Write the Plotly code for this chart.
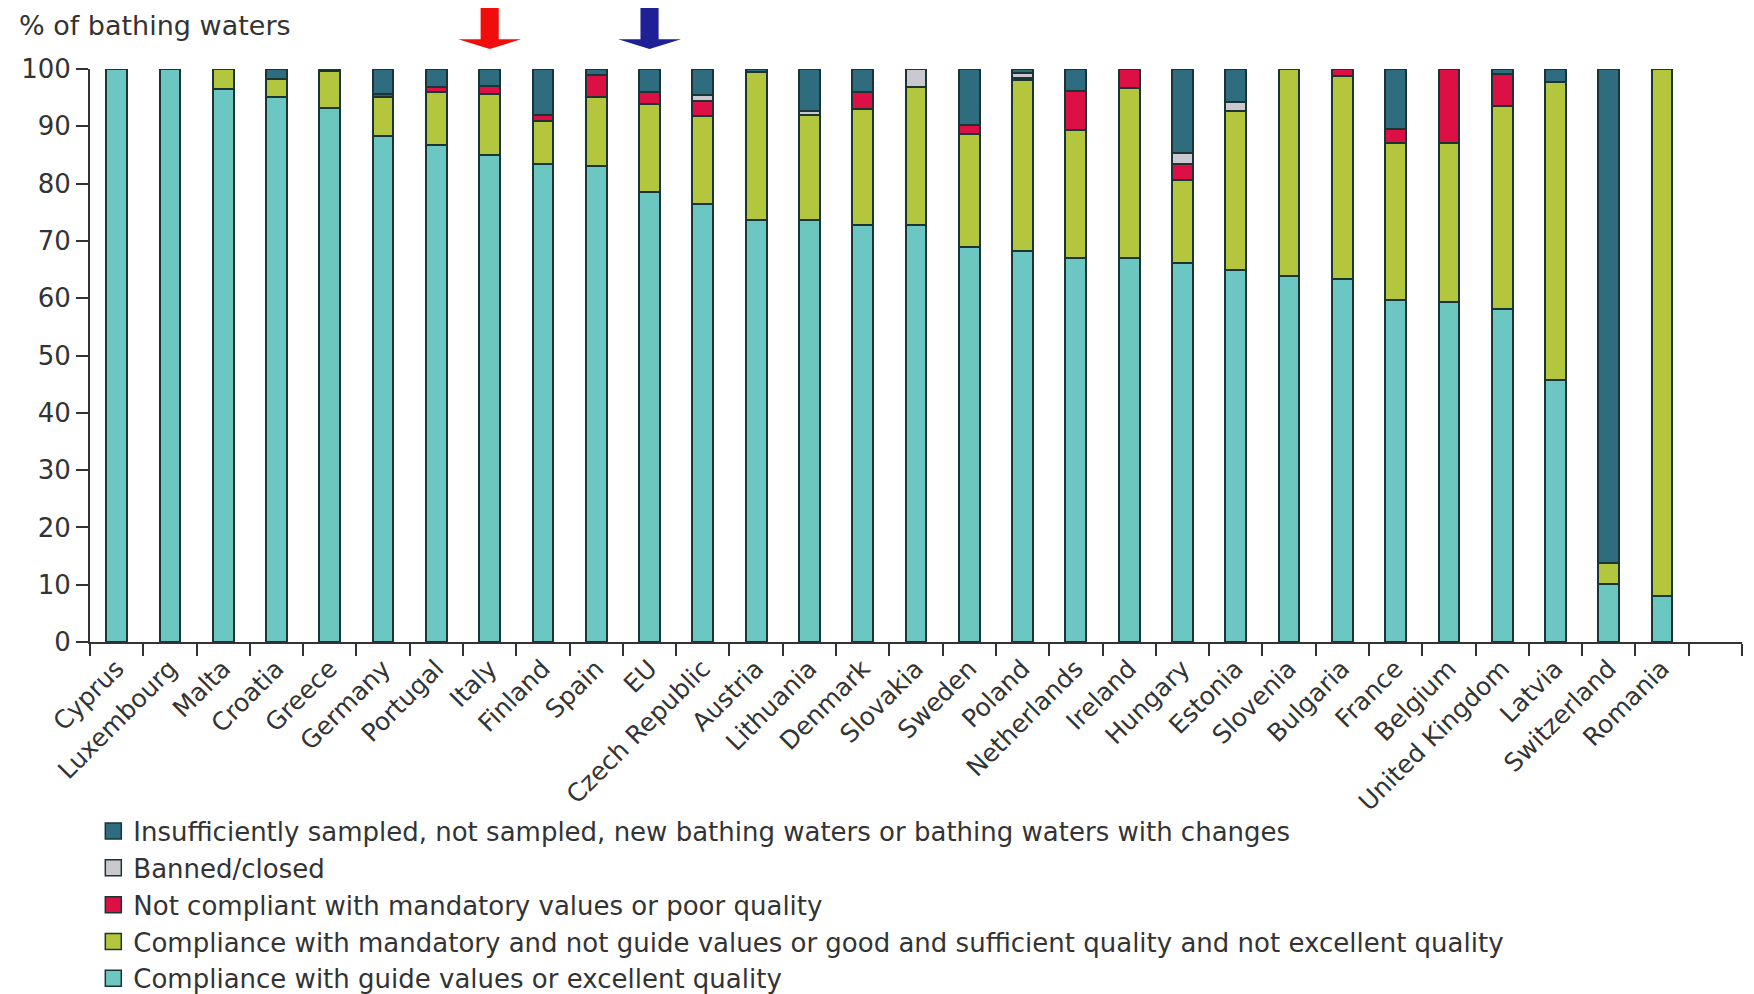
import plotly.graph_objects as go

categories = ["Cyprus", "Luxembourg", "Malta", "Croatia", "Greece", "Germany", "Portugal",
              "Italy", "Finland", "Spain", "EU", "Czech Republic", "Austria", "Lithuania",
              "Denmark", "Slovakia", "Sweden", "Poland", "Netherlands", "Ireland", "Hungary",
              "Estonia", "Slovenia", "Bulgaria", "France", "Belgium", "United Kingdom",
              "Latvia", "Switzerland", "Romania"]

guide = [100, 100, 96.5, 95.2, 93.2, 88.3, 86.7, 85.0, 83.4, 83.1, 78.5, 76.4, 73.6, 73.6,
         72.7, 72.7, 69.0, 68.2, 67.0, 67.0, 66.1, 65.0, 63.8, 63.3, 59.6, 59.3, 58.1,
         45.8, 10.1, 8.0]
mandatory = [0, 0, 3.5, 3.0, 6.5, 6.9, 9.2, 10.6, 7.6, 12.1, 15.4, 15.4, 25.9, 18.3,
             20.3, 24.1, 19.6, 29.9, 22.4, 29.7, 14.6, 27.7, 36.2, 35.5, 27.4, 27.7, 35.4,
             51.9, 3.7, 92.0]
not_compliant = [0, 0, 0, 0, 0, 0.4, 0.9, 1.4, 1.0, 3.8, 2.1, 2.6, 0, 0, 3.0, 0, 1.6, 0.4,
                 6.8, 3.3, 2.7, 0, 0, 1.2, 2.5, 13.0, 5.6, 0, 0, 0]
banned = [0, 0, 0, 0, 0, 0, 0, 0, 0, 0, 0, 1.0, 0, 0.8, 0, 3.2, 0, 0.8, 0, 0, 1.9, 1.6,
          0, 0, 0, 0, 0, 0, 0, 0]
insufficient = [0, 0, 0, 1.8, 0.3, 4.4, 3.2, 3.0, 8.0, 1.0, 4.0, 4.6, 0.5, 7.3, 4.0, 0,
                9.8, 0.7, 3.8, 0, 14.7, 5.7, 0, 0, 10.5, 0, 0.9, 2.3, 86.2, 0]

series_names = [
    "Compliance with guide values or excellent quality",
    "Compliance with mandatory and not guide values or good and sufficient quality and not excellent quality",
    "Not compliant with mandatory values or poor quality",
    "Banned/closed",
    "Insufficiently sampled, not sampled, new bathing waters or bathing waters with changes",
]
series_values = [guide, mandatory, not_compliant, banned, insufficient]
series_colors = ["#6cc7c3", "#b3c63d", "#dc1044", "#c9c9cf", "#2f6c80"]

y_ticks = list(range(0, 101, 10))
y_title = "% of bathing waters"
arrow_targets = [("Italy", "#f20d0d"), ("EU", "#1f1f96")]

FONT = "DejaVu Sans, Verdana, sans-serif"
TXT = "#333333"
OUTLINE = "#1b3434"
FS = 26

x = list(range(len(categories)))
fig = go.Figure()

for name, vals, col in zip(series_names, series_values, series_colors):
    fig.add_trace(go.Bar(
        x=x, y=[v if v else None for v in vals], name=name,
        marker=dict(color=col, line=dict(color=OUTLINE, width=2)),
        width=0.39, showlegend=False, hoverinfo="skip"))

# legend entries (larger square symbols)
for i, (name, col) in enumerate(zip(series_names, series_colors)):
    fig.add_trace(go.Scatter(
        x=[None], y=[None], mode="markers", name=name, legendgroup=str(i),
        marker=dict(symbol="square", size=22, color=col,
                    line=dict(color=OUTLINE, width=1.5))))

# arrows above highlighted bars
shapes = []
for cat, col in arrow_targets:
    c = categories.index(cat)
    sw, hw = 0.17, 0.59
    yt, yb, ytop = 1.035, 1.052, 1.14
    path = (f"M{c - sw},{ytop} L{c + sw},{ytop} L{c + sw},{yb} L{c + hw},{yb} "
            f"L{c},{yt} L{c - hw},{yb} L{c - sw},{yb} Z")
    shapes.append(dict(type="path", xref="x", yref="paper", path=path,
                       fillcolor=col, line=dict(width=0), layer="above"))

fig.update_layout(
    width=1746, height=986,
    barmode="stack",
    plot_bgcolor="white", paper_bgcolor="white",
    margin=dict(l=82, r=12, t=61, b=352),
    font=dict(family=FONT, color=TXT, size=FS),
    shapes=shapes,
    showlegend=True,
    legend=dict(x=0.002, xref="paper", y=0.189, yref="container",
                xanchor="left", yanchor="top",
                traceorder="reversed", tracegroupgap=0,
                font=dict(family=FONT, size=26, color=TXT),
                itemsizing="trace", bgcolor="rgba(0,0,0,0)"),
    annotations=[dict(text=y_title, xref="paper", yref="paper", x=-0.0442, y=1.1065,
                      xanchor="left", yanchor="top", showarrow=False,
                      font=dict(family=FONT, size=27, color=TXT))],
)

fig.update_yaxes(range=[0, 100], tickvals=y_ticks, ticks="outside", ticklen=12,
                 tickwidth=2, tickcolor="#333333", showline=True, linecolor="#333333",
                 linewidth=2, showgrid=False, zeroline=False, automargin=False,
                 tickfont=dict(family=FONT, size=FS, color=TXT))
fig.update_xaxes(range=[-0.5, len(categories) + 0.5], tickmode="array", tickvals=x,
                 ticktext=categories, tickangle=-45, ticks="", showline=True,
                 linecolor="#333333", linewidth=2, showgrid=False, zeroline=False,
                 automargin=False,
                 tickfont=dict(family=FONT, size=25, color=TXT),
                 minor=dict(tickmode="linear", tick0=-0.5, dtick=1, ticks="outside",
                            ticklen=12, tickwidth=2, tickcolor="#333333", showgrid=False))

fig.write_html("out.html")
